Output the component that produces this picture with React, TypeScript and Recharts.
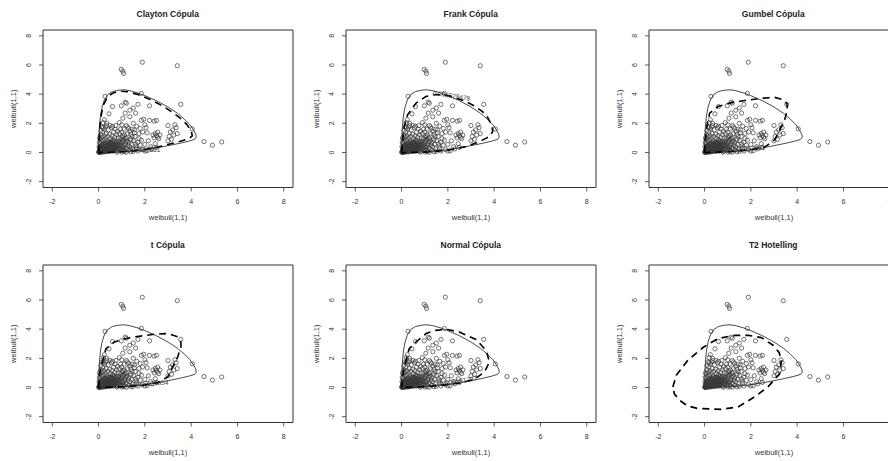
import { ScatterChart, Scatter, XAxis, YAxis, ReferenceArea, ReferenceDot } from "recharts";

type P = { x: number; y: number };
const pts = (a: number[][]): P[] => a.map(([x, y]) => ({ x, y }));

const axisTicks = [-2, 0, 2, 4, 6, 8];

// observed sample, same in every panel
const sample = pts([
  [1.89, 6.19], [3.4, 5.95], [0.98, 5.7], [1.05, 5.58], [1.08, 5.42], [0.28, 3.85], [1.85, 4.05], [3.55, 3.3],
  [4.55, 0.75], [4.92, 0.5], [5.32, 0.72], [4.05, 1.62],
  [0.6, 3.15], [0.98, 3.2], [1.15, 3.45], [1.2, 3.38], [1.5, 3.05], [1.7, 3.3], [2.2, 3.2], [1.35, 2.9], [1.6, 2.7],
  [0.45, 2.65], [0.25, 2.25], [0.35, 1.85], [1.15, 2.7], [1.35, 2.45], [1.5, 2.0], [1.85, 2.2], [1.95, 2.28],
  [2.2, 2.2], [2.4, 2.15], [2.5, 2.2], [1.05, 2.35], [0.9, 2.05], [0.75, 1.85], [1.0, 1.9], [1.2, 1.85],
  [1.25, 1.75], [1.3, 1.65], [1.65, 1.8], [1.8, 1.65], [2.05, 1.7], [2.0, 1.9], [1.75, 1.3], [1.9, 1.4], [2.1, 1.35],
  [3.0, 1.85], [3.3, 1.9], [3.2, 1.55], [3.35, 1.7], [3.1, 1.4], [3.05, 1.1], [3.0, 0.8], [3.15, 0.9], [3.4, 1.3], [3.25, 1.2],
  [2.45, 1.3], [2.5, 1.15], [2.55, 1.05], [2.6, 0.95], [2.4, 1.0], [2.65, 1.2], [2.55, 1.4], [2.35, 1.2],
  [2.15, 0.8], [2.0, 0.55], [2.25, 0.4], [2.45, 0.6], [1.85, 0.85], [1.6, 0.6], [1.45, 1.1], [1.55, 1.35],
  [1.4, 0.85], [1.65, 0.3], [1.3, 0.15], [1.9, 0.2], [2.1, 0.12], [1.1, 0.05], [1.5, 0.08],
  [0.05, 0.02], [0.08, 0.05], [0.1, 0.1], [0.12, 0.03], [0.15, 0.15], [0.18, 0.08], [0.2, 0.2], [0.22, 0.05],
  [0.25, 0.3], [0.28, 0.12], [0.3, 0.22], [0.32, 0.35], [0.35, 0.1], [0.38, 0.28], [0.4, 0.42], [0.42, 0.18],
  [0.45, 0.3], [0.48, 0.5], [0.5, 0.08], [0.52, 0.25], [0.55, 0.38], [0.58, 0.55], [0.6, 0.15], [0.62, 0.45],
  [0.65, 0.3], [0.68, 0.62], [0.7, 0.2], [0.72, 0.5], [0.75, 0.75], [0.78, 0.35], [0.8, 0.6], [0.82, 0.1],
  [0.85, 0.45], [0.88, 0.8], [0.9, 0.3], [0.92, 0.65], [0.95, 0.95], [0.98, 0.5], [1.0, 0.2], [1.02, 0.75],
  [1.05, 1.05], [1.08, 0.4], [1.1, 0.9], [1.12, 1.2], [1.15, 0.6], [1.18, 0.3], [1.2, 1.0], [1.22, 0.8],
  [1.25, 1.3], [1.28, 0.5],
  [0.05, 0.3], [0.06, 0.6], [0.08, 0.9], [0.1, 1.2], [0.12, 0.45], [0.14, 0.75], [0.16, 1.05], [0.18, 1.4],
  [0.2, 0.55], [0.22, 0.85], [0.24, 1.15], [0.26, 1.6], [0.28, 0.65], [0.3, 1.0], [0.33, 1.3], [0.36, 0.8],
  [0.4, 1.1], [0.42, 1.55], [0.45, 0.7], [0.48, 1.25], [0.52, 0.95], [0.55, 1.7], [0.58, 1.15], [0.62, 0.85],
  [0.65, 1.4], [0.7, 1.05], [0.72, 1.6], [0.78, 1.2], [0.82, 1.45], [0.85, 1.0], [0.9, 1.3], [0.95, 1.6],
  [1.0, 1.4], [1.05, 1.15], [1.1, 1.6],
  [0.02, 0.01], [0.03, 0.08], [0.04, 0.15], [0.06, 0.22], [0.07, 0.04], [0.09, 0.18], [0.11, 0.28], [0.13, 0.07],
  [0.14, 0.2], [0.16, 0.32], [0.17, 0.11], [0.19, 0.24], [0.21, 0.38], [0.23, 0.14], [0.24, 0.26], [0.26, 0.44],
  [0.27, 0.17], [0.29, 0.33], [0.31, 0.06], [0.33, 0.2], [0.34, 0.48], [0.36, 0.3], [0.37, 0.15], [0.39, 0.55],
  [0.41, 0.25], [0.43, 0.38], [0.44, 0.1], [0.46, 0.45], [0.47, 0.2], [0.49, 0.35], [0.51, 0.6], [0.53, 0.16],
  [0.54, 0.42], [0.56, 0.27], [0.57, 0.7], [0.59, 0.35], [0.61, 0.22], [0.63, 0.58], [0.64, 0.12], [0.66, 0.4],
  [0.69, 0.27], [0.71, 0.68], [0.73, 0.38], [0.76, 0.15], [0.79, 0.52], [0.81, 0.28], [0.84, 0.7], [0.87, 0.22],
  [0.89, 0.55], [0.93, 0.42], [0.96, 0.15], [0.99, 0.62], [1.03, 0.32], [1.06, 0.85], [1.09, 0.18], [1.13, 0.5],
  [1.16, 0.95], [1.19, 0.7], [1.24, 0.25], [1.3, 0.65], [1.35, 0.4], [1.38, 0.95], [1.42, 0.55], [1.48, 0.25],
  [1.52, 0.8], [1.58, 1.1], [1.62, 0.45], [1.7, 0.7], [1.75, 0.95], [1.8, 0.5], [1.35, 1.45], [1.4, 1.25],
  [1.45, 1.6], [1.55, 1.55],
  [0.02, 0.4], [0.03, 0.7], [0.04, 1.0], [0.1, 1.5], [0.15, 1.75], [0.2, 1.7], [0.3, 1.75], [0.5, 1.85],
  [0.6, 1.8], [0.35, 2.0], [0.2, 2.05],
  [0.8, 0.02], [1.0, 0.03], [1.2, 0.02], [1.4, 0.05], [1.7, 0.1], [2.0, 0.1], [2.3, 0.25], [2.5, 0.35],
  // dense corner near the origin
  [0.01, 0.03], [0.03, 0.02], [0.04, 0.05], [0.06, 0.09], [0.07, 0.13], [0.09, 0.03], [0.1, 0.07], [0.11, 0.15],
  [0.12, 0.21], [0.13, 0.12], [0.15, 0.05], [0.16, 0.19], [0.17, 0.26], [0.18, 0.15], [0.19, 0.04], [0.21, 0.12],
  [0.22, 0.28], [0.23, 0.2], [0.25, 0.09], [0.26, 0.22], [0.27, 0.34], [0.28, 0.27], [0.29, 0.05], [0.3, 0.14],
  [0.31, 0.4], [0.32, 0.26], [0.33, 0.12], [0.34, 0.32], [0.35, 0.2], [0.37, 0.38], [0.38, 0.08], [0.39, 0.22],
  [0.4, 0.32], [0.42, 0.47], [0.43, 0.14], [0.45, 0.24], [0.46, 0.36], [0.48, 0.12], [0.5, 0.3], [0.52, 0.44],
  [0.54, 0.2], [0.56, 0.5], [0.58, 0.3], [0.6, 0.4], [0.62, 0.1], [0.64, 0.48], [0.66, 0.22], [0.68, 0.36],
  [0.05, 0.12], [0.08, 0.25], [0.1, 0.35], [0.12, 0.38], [0.14, 0.5], [0.08, 0.42], [0.18, 0.45], [0.22, 0.6],
  [0.28, 0.5], [0.32, 0.62], [0.38, 0.68], [0.44, 0.58], [0.5, 0.72], [0.55, 0.62], [0.6, 0.85], [0.66, 0.75],
]);

// empirical contour (solid), same in every panel
const empirical = pts([
  [0, 0], [0.01, 0.5], [0.02, 1.2], [0.04, 1.8], [0.08, 2.5], [0.15, 3.1], [0.25, 3.6], [0.4, 3.98], [0.6, 4.18],
  [0.85, 4.27], [1.1, 4.3], [1.35, 4.24], [1.7, 4.08], [2.0, 3.9], [2.5, 3.55], [3.0, 3.12], [3.4, 2.7], [3.7, 2.3],
  [3.95, 1.9], [4.1, 1.55], [4.2, 1.25], [4.22, 1.05], [4.15, 0.9], [3.9, 0.78], [3.5, 0.63], [3.0, 0.47],
  [2.5, 0.32], [2.0, 0.19], [1.5, 0.1], [1.0, 0.05], [0.5, 0.02], [0, 0],
]);

const claytonContour = pts([
  [0, 0], [0.03, 1.0], [0.06, 1.8], [0.12, 2.6], [0.22, 3.3], [0.4, 3.85], [0.65, 4.1], [0.95, 4.2], [1.25, 4.17],
  [1.7, 3.98], [2.2, 3.65], [2.7, 3.25], [3.1, 2.85], [3.5, 2.4], [3.8, 1.95], [4.0, 1.5], [4.05, 1.15], [3.9, 0.95],
  [3.5, 0.75], [3.0, 0.55], [2.5, 0.35], [2.0, 0.2], [1.5, 0.1], [1.0, 0.05], [0.5, 0.02], [0, 0],
]);
const frankContour = pts([
  [0, 0], [0.05, 0.9], [0.12, 1.8], [0.26, 2.58], [0.62, 3.38], [1.05, 3.84], [1.5, 3.98], [2.1, 3.88], [2.7, 3.55],
  [3.14, 3.2], [3.5, 2.8], [3.72, 2.4], [3.9, 1.85], [3.94, 1.44], [3.8, 1.1], [3.5, 0.85], [2.86, 0.43], [2.0, 0.15],
  [1.12, 0.03], [0.5, 0.01], [0, 0],
]);
const gumbelContour = pts([
  [0, 0], [0.03, 0.8], [0.1, 1.8], [0.22, 2.7], [0.58, 3.15], [1.16, 3.42], [1.73, 3.56], [2.45, 3.72], [3.03, 3.78],
  [3.4, 3.62], [3.56, 3.35], [3.58, 2.92], [3.46, 2.24], [3.25, 1.55], [3.03, 0.87], [2.6, 0.37], [2.0, 0.18],
  [1.2, 0.07], [0.5, 0.02], [0, 0],
]);
const tContour = pts([
  [0, 0], [0.04, 0.8], [0.1, 1.41], [0.32, 2.66], [0.68, 3.12], [1.1, 3.32], [1.54, 3.47], [2.41, 3.65], [2.99, 3.7],
  [3.42, 3.47], [3.56, 3.1], [3.56, 2.78], [3.42, 2.1], [3.2, 1.41], [2.99, 0.73], [2.6, 0.35], [2.0, 0.17],
  [1.2, 0.06], [0.5, 0.02], [0, 0],
]);
const normalContour = pts([
  [0, 0], [0.04, 0.7], [0.11, 1.41], [0.33, 2.66], [0.62, 3.12], [1.06, 3.7], [1.48, 3.92], [1.92, 3.99], [2.49, 3.81],
  [3.22, 3.29], [3.65, 2.55], [3.8, 1.75], [3.58, 1.07], [3.14, 0.55], [2.5, 0.3], [1.48, 0.12], [0.7, 0.03], [0, 0],
]);
const hotellingEllipse = pts([
  [-1.37, 0.04], [-1.22, 0.84], [-0.72, 1.87], [-0.07, 2.74], [0.58, 3.36], [1.3, 3.58], [1.9, 3.58], [2.45, 3.42],
  [2.96, 2.9], [3.22, 2.4], [3.32, 1.88], [3.25, 0.96], [2.74, 0.04], [2.16, -0.64], [1.45, -1.33], [0.72, -1.5],
  [-0.29, -1.44], [-0.75, -1.25], [-1.08, -0.87], [-1.3, -0.45], [-1.37, 0.04],
]);

const titles = ["Clayton Cópula", "Frank Cópula", "Gumbel Cópula", "t Cópula", "Normal Cópula", "T2 Hotelling"];
const contours = [claytonContour, frankContour, gumbelContour, tContour, normalContour, hotellingEllipse];
const levelLabels = ["0.007597861", "0.006529478", "0.007763811", "0.007529854", "0.006581297", ""];
const levelAt = [[1.85, 0.2], [2.15, 3.9], [1.8, 0.27], [2.2, 0.28], [2.45, 0.45], [0, 0]];
const levelAngle = [0, 9, -4, -3, -8, 0];

const FONT = "'Liberation Sans', Arial, sans-serif";
const W = 303;
const H = 234;
const colLeft = [0, 303, 605.5];
const rowTop = [0, 235];
const titleY = [9, 4.5];

const Ring = (props: any) => (
  <circle cx={props.cx} cy={props.cy} r={2.1} fill="none" stroke="#3a3a3a" strokeWidth={0.7} />
);
const NoDot = () => <g />;

const XTick = (props: any) => (
  <g>
    <line x1={props.x} x2={props.x} y1={187.5} y2={191.5} stroke="#333" strokeWidth={0.8} />
    <text x={props.x} y={204} textAnchor="middle" fontSize={7} fill="#333" fontFamily={FONT}>
      {props.payload.value}
    </text>
  </g>
);
const YTick = (props: any) => (
  <g>
    <line x1={39} x2={43} y1={props.y} y2={props.y} stroke="#333" strokeWidth={0.8} />
    <text
      x={31}
      y={props.y}
      transform={`rotate(-90 31 ${props.y})`}
      textAnchor="middle"
      fontSize={7}
      fill="#333"
      fontFamily={FONT}
    >
      {props.payload.value}
    </text>
  </g>
);

const Panel = ({ i }: { i: number }) => {
  const row = Math.floor(i / 3);
  const col = i % 3;
  const dashW = i === 5 ? 1.7 : 1.6;
  return (
    <div style={{ position: "absolute", left: colLeft[col], top: rowTop[row], width: W, height: H }}>
      <div
        style={{
          position: "absolute",
          left: 43,
          width: 249.5,
          top: titleY[row],
          height: 11,
          lineHeight: "11px",
          textAlign: "center",
          fontFamily: FONT,
          fontWeight: "bold",
          fontSize: 8.5,
          color: "#222",
        }}
      >
        {titles[i]}
      </div>
      <ScatterChart width={W} height={H} margin={{ top: 30, right: 10, left: 5, bottom: 12.5 }}>
        <XAxis
          type="number"
          dataKey="x"
          domain={[-2.4, 8.4]}
          ticks={axisTicks}
          allowDataOverflow
          axisLine={false}
          tickLine={false}
          tick={<XTick />}
          height={34}
          label={{ value: "weibull(1,1)", position: "insideBottom", offset: 1.5, fontSize: 7.5, fill: "#333", fontFamily: FONT }}
        />
        <YAxis
          type="number"
          dataKey="y"
          domain={[-2.4, 8.4]}
          ticks={axisTicks}
          allowDataOverflow
          axisLine={false}
          tickLine={false}
          tick={<YTick />}
          width={38}
          label={{
            value: "weibull(1,1)",
            angle: -90,
            position: "insideLeft",
            offset: 8,
            fontSize: 7.5,
            fill: "#333",
            fontFamily: FONT,
            style: { textAnchor: "middle" },
          }}
        />
        <ReferenceArea x1={-2.4} x2={8.4} y1={-2.4} y2={8.4} fill="none" stroke="#333" strokeWidth={1} />
        <Scatter data={sample} shape={<Ring />} isAnimationActive={false} />
        <Scatter
          data={empirical}
          shape={<NoDot />}
          line={{ stroke: "#333", strokeWidth: 0.9 }}
          isAnimationActive={false}
        />
        <Scatter
          data={contours[i]}
          shape={<NoDot />}
          line={{ stroke: "#000", strokeWidth: dashW, strokeDasharray: "7 5" }}
          isAnimationActive={false}
        />
        {levelLabels[i] && (
          <ReferenceDot
            x={levelAt[i][0]}
            y={levelAt[i][1]}
            r={0}
            fill="none"
            stroke="none"
            label={{ value: levelLabels[i], position: "center", fontSize: 6.5, fill: "#333", angle: levelAngle[i], fontFamily: FONT }}
          />
        )}
      </ScatterChart>
    </div>
  );
}
;

export default function App() {
  return (
    <div style={{ position: "absolute", left: 0, top: 0, width: 888, height: 461, overflow: "hidden", background: "#fff" }}>
      {titles.map((_, i) => (
        <Panel key={i} i={i} />
      ))}
    </div>
  );
}
